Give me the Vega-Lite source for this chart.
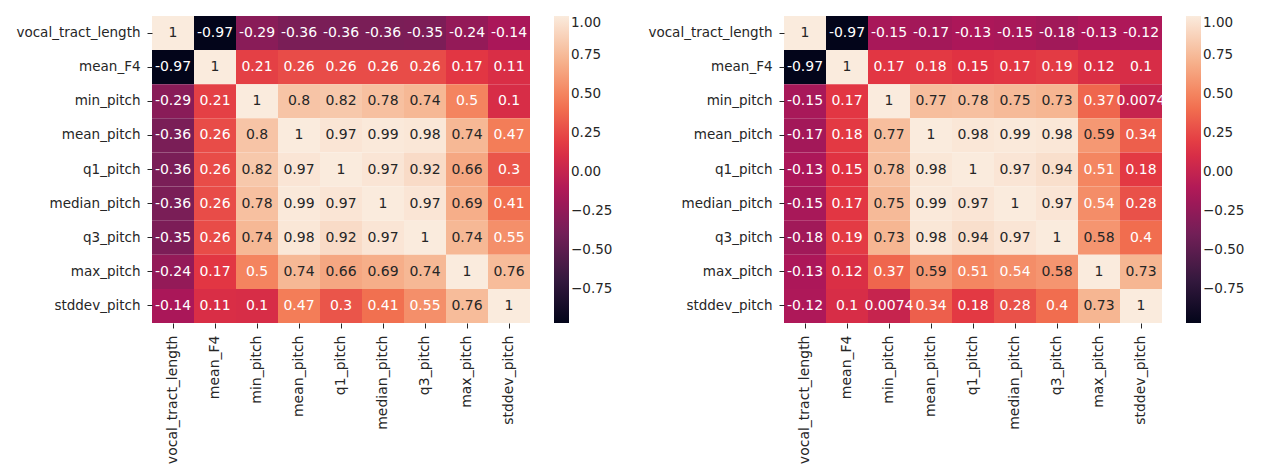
{
  "$schema": "https://vega.github.io/schema/vega-lite/v6.json",
  "padding": {"left": 15, "top": 16, "right": 5, "bottom": 0},
  "background": "white",
  "datasets": {
    "left": [
      {"r":"vocal_tract_length","c":"vocal_tract_length","v":1},
      {"r":"vocal_tract_length","c":"mean_F4","v":-0.97},
      {"r":"vocal_tract_length","c":"min_pitch","v":-0.29},
      {"r":"vocal_tract_length","c":"mean_pitch","v":-0.36},
      {"r":"vocal_tract_length","c":"q1_pitch","v":-0.36},
      {"r":"vocal_tract_length","c":"median_pitch","v":-0.36},
      {"r":"vocal_tract_length","c":"q3_pitch","v":-0.35},
      {"r":"vocal_tract_length","c":"max_pitch","v":-0.24},
      {"r":"vocal_tract_length","c":"stddev_pitch","v":-0.14},
      {"r":"mean_F4","c":"vocal_tract_length","v":-0.97},
      {"r":"mean_F4","c":"mean_F4","v":1},
      {"r":"mean_F4","c":"min_pitch","v":0.21},
      {"r":"mean_F4","c":"mean_pitch","v":0.26},
      {"r":"mean_F4","c":"q1_pitch","v":0.26},
      {"r":"mean_F4","c":"median_pitch","v":0.26},
      {"r":"mean_F4","c":"q3_pitch","v":0.26},
      {"r":"mean_F4","c":"max_pitch","v":0.17},
      {"r":"mean_F4","c":"stddev_pitch","v":0.11},
      {"r":"min_pitch","c":"vocal_tract_length","v":-0.29},
      {"r":"min_pitch","c":"mean_F4","v":0.21},
      {"r":"min_pitch","c":"min_pitch","v":1},
      {"r":"min_pitch","c":"mean_pitch","v":0.8},
      {"r":"min_pitch","c":"q1_pitch","v":0.82},
      {"r":"min_pitch","c":"median_pitch","v":0.78},
      {"r":"min_pitch","c":"q3_pitch","v":0.74},
      {"r":"min_pitch","c":"max_pitch","v":0.5},
      {"r":"min_pitch","c":"stddev_pitch","v":0.1},
      {"r":"mean_pitch","c":"vocal_tract_length","v":-0.36},
      {"r":"mean_pitch","c":"mean_F4","v":0.26},
      {"r":"mean_pitch","c":"min_pitch","v":0.8},
      {"r":"mean_pitch","c":"mean_pitch","v":1},
      {"r":"mean_pitch","c":"q1_pitch","v":0.97},
      {"r":"mean_pitch","c":"median_pitch","v":0.99},
      {"r":"mean_pitch","c":"q3_pitch","v":0.98},
      {"r":"mean_pitch","c":"max_pitch","v":0.74},
      {"r":"mean_pitch","c":"stddev_pitch","v":0.47},
      {"r":"q1_pitch","c":"vocal_tract_length","v":-0.36},
      {"r":"q1_pitch","c":"mean_F4","v":0.26},
      {"r":"q1_pitch","c":"min_pitch","v":0.82},
      {"r":"q1_pitch","c":"mean_pitch","v":0.97},
      {"r":"q1_pitch","c":"q1_pitch","v":1},
      {"r":"q1_pitch","c":"median_pitch","v":0.97},
      {"r":"q1_pitch","c":"q3_pitch","v":0.92},
      {"r":"q1_pitch","c":"max_pitch","v":0.66},
      {"r":"q1_pitch","c":"stddev_pitch","v":0.3},
      {"r":"median_pitch","c":"vocal_tract_length","v":-0.36},
      {"r":"median_pitch","c":"mean_F4","v":0.26},
      {"r":"median_pitch","c":"min_pitch","v":0.78},
      {"r":"median_pitch","c":"mean_pitch","v":0.99},
      {"r":"median_pitch","c":"q1_pitch","v":0.97},
      {"r":"median_pitch","c":"median_pitch","v":1},
      {"r":"median_pitch","c":"q3_pitch","v":0.97},
      {"r":"median_pitch","c":"max_pitch","v":0.69},
      {"r":"median_pitch","c":"stddev_pitch","v":0.41},
      {"r":"q3_pitch","c":"vocal_tract_length","v":-0.35},
      {"r":"q3_pitch","c":"mean_F4","v":0.26},
      {"r":"q3_pitch","c":"min_pitch","v":0.74},
      {"r":"q3_pitch","c":"mean_pitch","v":0.98},
      {"r":"q3_pitch","c":"q1_pitch","v":0.92},
      {"r":"q3_pitch","c":"median_pitch","v":0.97},
      {"r":"q3_pitch","c":"q3_pitch","v":1},
      {"r":"q3_pitch","c":"max_pitch","v":0.74},
      {"r":"q3_pitch","c":"stddev_pitch","v":0.55},
      {"r":"max_pitch","c":"vocal_tract_length","v":-0.24},
      {"r":"max_pitch","c":"mean_F4","v":0.17},
      {"r":"max_pitch","c":"min_pitch","v":0.5},
      {"r":"max_pitch","c":"mean_pitch","v":0.74},
      {"r":"max_pitch","c":"q1_pitch","v":0.66},
      {"r":"max_pitch","c":"median_pitch","v":0.69},
      {"r":"max_pitch","c":"q3_pitch","v":0.74},
      {"r":"max_pitch","c":"max_pitch","v":1},
      {"r":"max_pitch","c":"stddev_pitch","v":0.76},
      {"r":"stddev_pitch","c":"vocal_tract_length","v":-0.14},
      {"r":"stddev_pitch","c":"mean_F4","v":0.11},
      {"r":"stddev_pitch","c":"min_pitch","v":0.1},
      {"r":"stddev_pitch","c":"mean_pitch","v":0.47},
      {"r":"stddev_pitch","c":"q1_pitch","v":0.3},
      {"r":"stddev_pitch","c":"median_pitch","v":0.41},
      {"r":"stddev_pitch","c":"q3_pitch","v":0.55},
      {"r":"stddev_pitch","c":"max_pitch","v":0.76},
      {"r":"stddev_pitch","c":"stddev_pitch","v":1}
    ],
    "right": [
      {"r":"vocal_tract_length","c":"vocal_tract_length","v":1},
      {"r":"vocal_tract_length","c":"mean_F4","v":-0.97},
      {"r":"vocal_tract_length","c":"min_pitch","v":-0.15},
      {"r":"vocal_tract_length","c":"mean_pitch","v":-0.17},
      {"r":"vocal_tract_length","c":"q1_pitch","v":-0.13},
      {"r":"vocal_tract_length","c":"median_pitch","v":-0.15},
      {"r":"vocal_tract_length","c":"q3_pitch","v":-0.18},
      {"r":"vocal_tract_length","c":"max_pitch","v":-0.13},
      {"r":"vocal_tract_length","c":"stddev_pitch","v":-0.12},
      {"r":"mean_F4","c":"vocal_tract_length","v":-0.97},
      {"r":"mean_F4","c":"mean_F4","v":1},
      {"r":"mean_F4","c":"min_pitch","v":0.17},
      {"r":"mean_F4","c":"mean_pitch","v":0.18},
      {"r":"mean_F4","c":"q1_pitch","v":0.15},
      {"r":"mean_F4","c":"median_pitch","v":0.17},
      {"r":"mean_F4","c":"q3_pitch","v":0.19},
      {"r":"mean_F4","c":"max_pitch","v":0.12},
      {"r":"mean_F4","c":"stddev_pitch","v":0.1},
      {"r":"min_pitch","c":"vocal_tract_length","v":-0.15},
      {"r":"min_pitch","c":"mean_F4","v":0.17},
      {"r":"min_pitch","c":"min_pitch","v":1},
      {"r":"min_pitch","c":"mean_pitch","v":0.77},
      {"r":"min_pitch","c":"q1_pitch","v":0.78},
      {"r":"min_pitch","c":"median_pitch","v":0.75},
      {"r":"min_pitch","c":"q3_pitch","v":0.73},
      {"r":"min_pitch","c":"max_pitch","v":0.37},
      {"r":"min_pitch","c":"stddev_pitch","v":0.0074},
      {"r":"mean_pitch","c":"vocal_tract_length","v":-0.17},
      {"r":"mean_pitch","c":"mean_F4","v":0.18},
      {"r":"mean_pitch","c":"min_pitch","v":0.77},
      {"r":"mean_pitch","c":"mean_pitch","v":1},
      {"r":"mean_pitch","c":"q1_pitch","v":0.98},
      {"r":"mean_pitch","c":"median_pitch","v":0.99},
      {"r":"mean_pitch","c":"q3_pitch","v":0.98},
      {"r":"mean_pitch","c":"max_pitch","v":0.59},
      {"r":"mean_pitch","c":"stddev_pitch","v":0.34},
      {"r":"q1_pitch","c":"vocal_tract_length","v":-0.13},
      {"r":"q1_pitch","c":"mean_F4","v":0.15},
      {"r":"q1_pitch","c":"min_pitch","v":0.78},
      {"r":"q1_pitch","c":"mean_pitch","v":0.98},
      {"r":"q1_pitch","c":"q1_pitch","v":1},
      {"r":"q1_pitch","c":"median_pitch","v":0.97},
      {"r":"q1_pitch","c":"q3_pitch","v":0.94},
      {"r":"q1_pitch","c":"max_pitch","v":0.51},
      {"r":"q1_pitch","c":"stddev_pitch","v":0.18},
      {"r":"median_pitch","c":"vocal_tract_length","v":-0.15},
      {"r":"median_pitch","c":"mean_F4","v":0.17},
      {"r":"median_pitch","c":"min_pitch","v":0.75},
      {"r":"median_pitch","c":"mean_pitch","v":0.99},
      {"r":"median_pitch","c":"q1_pitch","v":0.97},
      {"r":"median_pitch","c":"median_pitch","v":1},
      {"r":"median_pitch","c":"q3_pitch","v":0.97},
      {"r":"median_pitch","c":"max_pitch","v":0.54},
      {"r":"median_pitch","c":"stddev_pitch","v":0.28},
      {"r":"q3_pitch","c":"vocal_tract_length","v":-0.18},
      {"r":"q3_pitch","c":"mean_F4","v":0.19},
      {"r":"q3_pitch","c":"min_pitch","v":0.73},
      {"r":"q3_pitch","c":"mean_pitch","v":0.98},
      {"r":"q3_pitch","c":"q1_pitch","v":0.94},
      {"r":"q3_pitch","c":"median_pitch","v":0.97},
      {"r":"q3_pitch","c":"q3_pitch","v":1},
      {"r":"q3_pitch","c":"max_pitch","v":0.58},
      {"r":"q3_pitch","c":"stddev_pitch","v":0.4},
      {"r":"max_pitch","c":"vocal_tract_length","v":-0.13},
      {"r":"max_pitch","c":"mean_F4","v":0.12},
      {"r":"max_pitch","c":"min_pitch","v":0.37},
      {"r":"max_pitch","c":"mean_pitch","v":0.59},
      {"r":"max_pitch","c":"q1_pitch","v":0.51},
      {"r":"max_pitch","c":"median_pitch","v":0.54},
      {"r":"max_pitch","c":"q3_pitch","v":0.58},
      {"r":"max_pitch","c":"max_pitch","v":1},
      {"r":"max_pitch","c":"stddev_pitch","v":0.73},
      {"r":"stddev_pitch","c":"vocal_tract_length","v":-0.12},
      {"r":"stddev_pitch","c":"mean_F4","v":0.1},
      {"r":"stddev_pitch","c":"min_pitch","v":0.0074},
      {"r":"stddev_pitch","c":"mean_pitch","v":0.34},
      {"r":"stddev_pitch","c":"q1_pitch","v":0.18},
      {"r":"stddev_pitch","c":"median_pitch","v":0.28},
      {"r":"stddev_pitch","c":"q3_pitch","v":0.4},
      {"r":"stddev_pitch","c":"max_pitch","v":0.73},
      {"r":"stddev_pitch","c":"stddev_pitch","v":1}
    ]
  },
  "hconcat": [
    {
      "width": 378, "height": 307,
      "data": {"name": "left"},
      "encoding": {
        "x": {"field": "c", "type": "nominal", "sort": ["vocal_tract_length","mean_F4","min_pitch","mean_pitch","q1_pitch","median_pitch","q3_pitch","max_pitch","stddev_pitch"], "axis": {"labelAngle": 270, "labelFontSize": 14}},
        "y": {"field": "r", "type": "nominal", "sort": ["vocal_tract_length","mean_F4","min_pitch","mean_pitch","q1_pitch","median_pitch","q3_pitch","max_pitch","stddev_pitch"]}
      },
      "layer": [
        {"mark": {"type": "rect"},
         "encoding": {"color": {"field": "v", "type": "quantitative",
           "scale": {"type": "linear", "interpolate": "rgb", "domain": [-0.97, -0.688571, -0.407143, -0.125714, 0.155714, 0.437143, 0.718571, 1], "range": ["#03051a", "#35193e", "#701f57", "#ad1759", "#e13342", "#f37651", "#f6b48f", "#faebdd"]},
           "legend": {"values": [-0.75, -0.5, -0.25, 0, 0.25, 0.5, 0.75, 1], "format": ".2f"}}}},
        {"mark": {"type": "text", "font": "DejaVu Sans", "fontSize": 14},
         "encoding": {"text": {"field": "v", "type": "nominal"},
           "color": {"condition": {"test": "datum.v > 0.56", "value": "#262626"}, "value": "#ffffff"}}}
      ]
    },
    {
      "width": 378, "height": 307,
      "data": {"name": "right"},
      "encoding": {
        "x": {"field": "c", "type": "nominal", "sort": ["vocal_tract_length","mean_F4","min_pitch","mean_pitch","q1_pitch","median_pitch","q3_pitch","max_pitch","stddev_pitch"], "axis": {"labelAngle": 270, "labelFontSize": 14}},
        "y": {"field": "r", "type": "nominal", "sort": ["vocal_tract_length","mean_F4","min_pitch","mean_pitch","q1_pitch","median_pitch","q3_pitch","max_pitch","stddev_pitch"]}
      },
      "layer": [
        {"mark": {"type": "rect"},
         "encoding": {"color": {"field": "v", "type": "quantitative",
           "scale": {"type": "linear", "interpolate": "rgb", "domain": [-0.97, -0.688571, -0.407143, -0.125714, 0.155714, 0.437143, 0.718571, 1], "range": ["#03051a", "#35193e", "#701f57", "#ad1759", "#e13342", "#f37651", "#f6b48f", "#faebdd"]},
           "legend": {"values": [-0.75, -0.5, -0.25, 0, 0.25, 0.5, 0.75, 1], "format": ".2f"}}}},
        {"mark": {"type": "text", "font": "DejaVu Sans", "fontSize": 14},
         "encoding": {"text": {"field": "v", "type": "nominal"},
           "color": {"condition": {"test": "datum.v > 0.56", "value": "#262626"}, "value": "#ffffff"}}}
      ]
    }
  ],
  "spacing": 254,
  "bounds": "flush",
  "resolve": {"scale": {"color": "independent"}},
  "config": {
    "view": {"stroke": null},
    "axis": {"domain": false, "title": null, "labelFont": "DejaVu Sans", "labelFontSize": 13.5, "labelColor": "#262626", "tickColor": "#262626", "tickSize": 5, "labelPadding": 7},
    "legend": {"title": null, "offset": 24, "gradientLength": 307, "gradientThickness": 15, "gradientStrokeWidth": 0, "labelFont": "DejaVu Sans", "labelFontSize": 13.5, "labelColor": "#262626", "labelOffset": 9, "padding": 0}
  }
}
